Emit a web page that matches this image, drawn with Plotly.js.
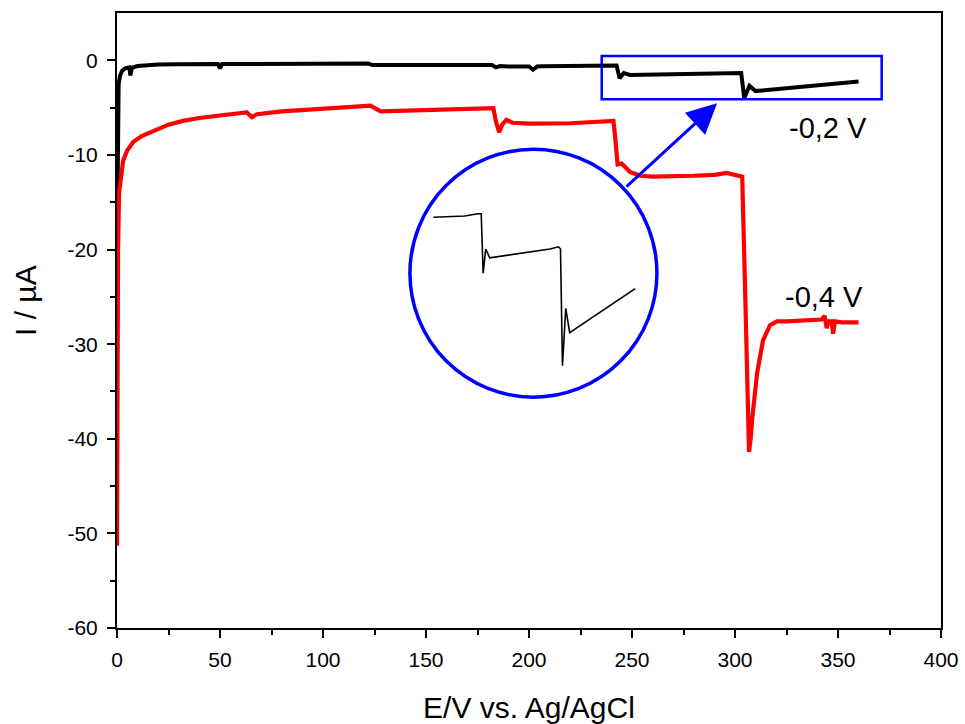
<!DOCTYPE html>
<html>
<head>
<meta charset="utf-8">
<script src="https://cdn.plot.ly/plotly-3.0.1.min.js"></script>
<style>html,body{margin:0;padding:0;background:#fff;}#chart{width:965px;height:724px;}</style>
</head>
<body>
<div id="chart"></div>
<script>
// -0,2 V series (black)
const blackE = [0, 0.4, 0.8, 1.5, 2.5, 4, 6, 6.5, 7.2, 10, 20, 30, 45, 49, 50, 51, 55, 70, 90, 110, 122, 124, 140, 160, 178, 182, 184, 186, 190, 200, 202, 204, 206, 215, 230, 240, 242.5, 244, 246, 249, 260, 280, 295, 301.5, 303, 304.5, 307, 310, 320, 340, 360];
const blackI = [-20, -6, -2.5, -1.6, -1.1, -0.85, -0.75, -1.6, -0.8, -0.6, -0.45, -0.42, -0.4, -0.4, -0.85, -0.4, -0.4, -0.38, -0.35, -0.35, -0.35, -0.5, -0.5, -0.48, -0.45, -0.5, -0.75, -0.6, -0.65, -0.65, -1.0, -0.65, -0.63, -0.62, -0.6, -0.55, -0.55, -1.9, -1.35, -1.55, -1.5, -1.42, -1.35, -1.3, -1.35, -4.0, -2.7, -3.25, -3.05, -2.65, -2.25];

// -0,4 V series (red)
const redE = [0, 0.2, 0.5, 1, 2, 3, 5, 8, 12, 18, 25, 32, 40, 55, 63, 65.5, 68, 80, 100, 115, 121, 123, 128, 150, 170, 182.7, 184, 185.5, 187, 189, 192, 200, 220, 235, 241, 242, 243, 245, 246.5, 249, 254, 260, 280, 290, 296, 302, 303.5, 305, 306, 306.8, 307.6, 308.3, 310.7, 313.6, 317, 320.4, 325, 335, 342, 343.5, 344.5, 345.5, 347, 347.6, 348.5, 352, 360];
const redI = [-51.3, -35, -20, -14, -11.8, -10.6, -9.5, -8.6, -8.0, -7.4, -6.8, -6.4, -6.1, -5.7, -5.5, -6.0, -5.7, -5.4, -5.1, -4.9, -4.75, -4.8, -5.4, -5.25, -5.1, -5.05, -6.5, -7.6, -6.8, -6.3, -6.6, -6.7, -6.65, -6.5, -6.4, -8.5, -11.0, -10.9, -11.2, -11.8, -12.2, -12.3, -12.2, -12.1, -11.9, -12.2, -12.3, -25, -36, -41.4, -40, -38, -33.1, -29.6, -28.0, -27.6, -27.6, -27.5, -27.4, -27.0, -28.3, -27.6, -27.6, -28.9, -27.6, -27.7, -27.7];

// Inset: magnified part of the black curve
const insetStart = 206;

// Axis ticks
const xTickVals = [0, 50, 100, 150, 200, 250, 300, 350, 400];
const xTickText = ['0', '50', '100', '150', '200', '250', '300', '350', '400'];
const yTickVals = [0, -10, -20, -30, -40, -50, -60];
const yTickText = ['0', '-10', '-20', '-30', '-40', '-50', '-60'];

// Labels
const labelTexts = ['-0,2 V', '-0,4 V'];
const labelE = [345, 343];
const labelI = [-7.2, -25.0];
const xTitle = 'E/V vs. Ag/AgCl';
const yTitle = 'I / µA';

const insetE = blackE.filter(e => e >= insetStart);
const insetI = blackI.filter((v, i) => blackE[i] >= insetStart);

const FONT = 'Arial, "Liberation Sans", sans-serif';

const traces = [
  {x: blackE, y: blackI, type: 'scatter', mode: 'lines', line: {color: '#000000', width: 4}, hoverinfo: 'skip'},
  {x: redE, y: redI, type: 'scatter', mode: 'lines', line: {color: '#FF0000', width: 4.2}, hoverinfo: 'skip'},
  {x: insetE, y: insetI, xaxis: 'x2', yaxis: 'y2', type: 'scatter', mode: 'lines', line: {color: '#000000', width: 1.6}, hoverinfo: 'skip'}
];

const axisCommon = {
  showline: true, linecolor: '#000', linewidth: 2, mirror: true,
  ticks: 'outside', ticklen: 8, tickwidth: 2, tickcolor: '#000',
  showgrid: false, zeroline: false,
  tickfont: {family: FONT, size: 21, color: '#000'}
};

const layout = {
  width: 965, height: 724,
  margin: {l: 117, r: 24, t: 13, b: 96},
  paper_bgcolor: '#fff', plot_bgcolor: 'rgba(0,0,0,0)',
  showlegend: false,
  font: {family: FONT, color: '#000'},
  xaxis: Object.assign({}, axisCommon, {
    range: [0, 400], tickvals: xTickVals, ticktext: xTickText, ticklabelstandoff: 4,
    minor: {tickvals: [25, 75, 125, 175, 225, 275, 325, 375], ticklen: 5, tickwidth: 2, tickcolor: '#000', ticks: 'outside'},
    title: {text: xTitle, font: {family: FONT, size: 30, color: '#000'}, standoff: 28}
  }),
  yaxis: Object.assign({}, axisCommon, {
    range: [-60, 5], tickvals: yTickVals, ticktext: yTickText, ticklabelstandoff: 5,
    minor: {tickvals: [-5, -15, -25, -35, -45, -55], ticklen: 5, tickwidth: 2, tickcolor: '#000', ticks: 'outside'}
  }),
  xaxis2: {domain: [0.3556, 0.6553], range: [188.2, 376.6], anchor: 'y2', visible: false, fixedrange: true},
  yaxis2: {domain: [0.3756, 0.7789], range: [-4.71, 0.92], anchor: 'x2', visible: false, fixedrange: true},
  shapes: [
    {type: 'rect', xref: 'x', yref: 'y', x0: 235.3, x1: 371.2, y0: -4.12, y1: 0.45, line: {color: '#0000FF', width: 2.5}},
    {type: 'circle', xref: 'x', yref: 'y', x0: 142.2, x1: 262.1, y0: -35.6, y1: -9.4, line: {color: '#0000FF', width: 3.5}}
  ],
  annotations: [
    {x: -0.1117, y: 0.5333, xref: 'paper', yref: 'paper', text: yTitle, textangle: -90, showarrow: false, xanchor: 'center', yanchor: 'middle', font: {family: FONT, size: 30, color: '#000'}},
    {x: labelE[0], y: labelI[0], xref: 'x', yref: 'y', text: labelTexts[0], showarrow: false, font: {family: FONT, size: 29, color: '#000'}},
    {x: labelE[1], y: labelI[1], xref: 'x', yref: 'y', text: labelTexts[1], showarrow: false, font: {family: FONT, size: 29, color: '#000'}},
    {x: 291.3, y: -4.55, ax: 246.6, ay: -13.5, xref: 'x', yref: 'y', axref: 'x', ayref: 'y', text: '', showarrow: true, arrowhead: 2, arrowsize: 2, arrowwidth: 3, arrowcolor: '#0000FF', standoff: 0, startstandoff: 0}
  ]
};

Plotly.newPlot('chart', traces, layout, {displayModeBar: false, staticPlot: true});
</script>
</body>
</html>
